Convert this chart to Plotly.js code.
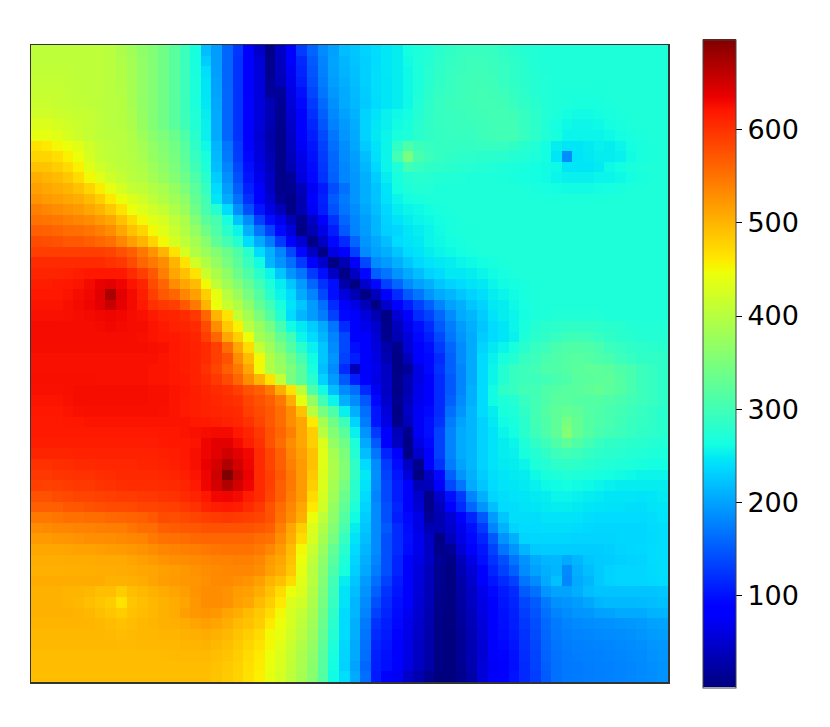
<!DOCTYPE html>
<html><head><meta charset="utf-8">
<script src="https://cdn.plot.ly/plotly-3.0.1.min.js"></script>
<style>html,body{margin:0;padding:0;background:#fff}</style></head>
<body><div id="chart" style="width:830px;height:727px"></div>
<script>
const colorbarTicks=[100,200,300,400,500,600];
const zMin=1, zMax=697;
const gridValues=[
[405,405,405,405,405,405,405,400,390,380,365,355,340,320,295,265,218,195,156,125,88,45,5,42,85,128,156,183,197,218,223,232,240,246,250,262,268,272,280,285,290,292,292,290,285,280,275,272,270,270,270,270,270,270,270,270,270,270,270,270],
[405,405,405,405,405,405,405,400,392,382,368,355,340,320,295,265,228,195,156,122,87,54,8,40,77,115,150,178,200,213,222,230,238,246,250,260,268,275,282,288,292,295,295,292,288,282,278,272,270,270,270,270,270,270,270,270,270,270,270,270],
[408,408,408,406,405,405,405,400,394,384,368,355,340,320,295,266,240,196,156,122,87,56,10,38,70,112,146,176,198,211,220,230,240,246,250,258,268,276,284,290,294,297,297,294,290,284,279,274,271,270,270,270,270,270,270,270,270,270,270,270],
[410,410,410,408,406,405,404,400,395,384,368,355,340,320,295,268,244,198,156,122,87,57,15,37,67,107,143,173,196,208,218,230,240,245,250,258,268,278,285,290,295,298,298,295,290,285,280,275,272,270,270,270,270,270,270,270,270,270,270,270],
[412,412,412,409,407,405,404,400,396,385,368,355,340,320,295,268,245,200,158,122,87,57,18,18,60,99,135,168,192,205,216,228,240,245,250,258,270,280,288,292,295,298,300,298,295,288,282,275,272,270,268,268,268,268,270,270,270,270,270,270],
[415,415,412,410,408,405,403,400,398,385,368,355,340,320,295,268,246,202,158,122,89,57,34,15,54,92,127,160,186,204,214,226,238,245,250,258,272,282,290,294,296,298,300,300,298,292,285,278,272,270,268,265,265,265,268,270,270,270,270,270],
[420,420,418,415,412,410,405,400,398,388,370,355,340,320,296,272,250,204,158,122,89,57,34,12,50,87,121,153,181,198,210,232,243,252,258,262,275,284,290,292,294,296,298,300,300,298,290,282,274,268,262,260,260,262,265,268,270,270,270,270],
[430,430,425,420,415,410,405,400,398,390,372,356,340,320,298,273,252,205,158,122,87,54,32,10,46,82,113,146,176,193,206,232,246,252,260,265,278,285,290,292,293,294,296,300,300,300,290,282,272,264,258,256,256,258,262,266,268,270,270,270],
[440,440,435,425,418,410,405,402,400,392,378,362,350,335,310,280,252,205,158,122,87,52,27,8,42,77,107,138,168,190,205,232,247,255,265,270,280,285,288,290,292,292,295,298,300,300,290,282,272,265,255,255,255,255,258,262,266,268,270,270],
[465,460,450,445,435,420,410,404,400,394,384,368,356,342,318,285,258,212,168,127,89,54,30,8,39,73,102,132,163,185,202,226,243,255,285,310,295,290,288,288,288,288,290,290,290,285,278,272,262,250,245,245,248,252,250,255,262,266,268,270],
[475,475,468,455,445,425,412,405,402,396,386,372,360,346,322,292,265,215,172,129,92,57,34,8,36,64,99,129,158,183,196,218,241,255,300,345,305,295,288,285,282,282,280,280,278,275,272,268,262,245,185,243,247,250,250,252,260,265,268,270],
[490,488,480,470,455,435,420,410,405,398,392,378,365,350,328,298,270,218,178,135,97,62,37,8,32,60,95,125,156,180,194,213,236,255,270,300,290,285,282,280,278,276,274,272,270,268,265,262,260,258,245,245,245,248,258,262,265,268,270,270],
[505,500,495,485,470,450,435,420,410,402,396,384,372,356,338,310,280,228,186,142,102,67,42,8,15,57,92,122,153,180,192,208,228,250,265,275,278,276,274,272,272,270,270,268,268,266,264,262,260,255,252,252,252,255,255,258,262,265,268,270],
[515,510,505,500,490,475,458,440,425,412,406,396,388,372,350,322,290,238,195,152,110,77,42,8,12,35,72,105,140,165,190,207,222,244,262,270,272,272,270,270,270,270,270,270,270,270,268,266,264,262,260,260,260,262,264,266,268,270,270,270],
[525,520,515,510,505,495,480,460,445,430,420,405,395,380,365,330,300,245,205,165,120,85,50,15,5,30,80,110,150,172,190,207,222,242,255,262,265,270,270,270,270,270,270,270,270,270,270,268,268,268,268,268,268,268,270,270,270,270,270,270],
[540,535,530,525,520,510,500,485,465,445,432,420,410,392,375,340,305,275,238,185,142,102,62,37,5,32,72,107,143,168,185,202,218,236,250,255,258,262,266,268,270,270,270,270,270,270,270,270,270,270,270,270,270,270,270,270,270,270,270,270],
[550,548,545,540,535,530,520,510,490,470,450,435,425,405,390,355,320,305,265,222,183,132,97,67,37,8,42,87,122,158,180,196,213,232,243,250,255,258,262,265,268,270,270,270,270,270,270,270,270,270,270,270,270,270,270,270,270,270,270,270],
[565,563,560,555,553,548,540,530,510,490,475,450,435,415,395,370,340,310,280,255,208,168,132,92,57,5,32,62,107,148,178,194,213,230,234,245,250,255,260,265,268,270,270,270,270,270,270,270,270,270,270,270,270,270,270,270,270,270,270,270],
[580,578,575,570,570,565,558,552,535,515,500,475,450,425,405,385,360,325,300,275,238,204,173,127,87,52,5,42,92,117,158,189,203,218,238,243,247,255,258,262,265,268,270,270,270,270,270,270,270,270,270,270,270,270,270,270,270,270,270,270],
[590,590,590,590,590,590,590,585,575,565,545,525,500,465,425,395,375,355,335,310,280,238,209,178,137,92,42,5,62,77,132,183,199,208,223,238,243,250,255,258,262,265,268,270,270,270,270,270,270,270,270,270,270,270,270,270,270,270,270,270],
[605,605,605,605,605,605,605,600,595,580,560,545,530,500,465,420,395,370,345,320,290,260,213,189,163,127,87,47,5,32,75,137,183,194,208,223,236,243,247,250,255,258,262,265,268,270,270,270,270,270,270,270,270,270,270,270,270,270,270,270],
[610,610,610,612,615,620,620,620,618,605,590,570,540,510,490,465,415,390,365,335,310,280,255,223,189,168,127,97,42,5,42,92,153,168,189,204,218,232,238,247,247,250,255,260,264,268,270,270,270,270,270,270,270,270,270,270,270,270,270,270],
[615,615,618,620,622,628,635,640,632,622,610,580,560,530,510,495,450,405,380,355,330,300,270,250,223,194,158,122,97,27,3,47,92,132,158,183,199,208,223,232,238,243,247,255,260,262,266,268,270,270,270,270,270,270,270,270,270,270,270,270],
[620,620,620,622,626,630,640,672,640,628,615,590,570,560,535,515,480,440,400,375,345,315,280,255,238,204,178,137,97,57,32,5,37,82,117,148,168,189,204,213,223,232,240,250,255,260,265,268,270,270,270,270,270,270,270,270,270,270,270,270],
[622,622,622,625,628,632,640,655,638,628,618,600,595,590,570,545,500,445,415,395,365,330,300,265,243,223,194,163,117,87,62,37,5,47,87,107,132,153,178,199,208,223,232,247,250,258,264,268,270,270,270,270,270,270,270,270,270,270,270,270],
[624,624,624,625,627,628,630,632,630,627,624,618,612,610,605,595,560,500,465,410,385,350,315,275,238,213,194,173,132,92,82,57,32,5,52,82,117,132,158,183,204,213,228,243,250,255,262,268,270,272,272,272,272,272,270,270,270,270,270,270],
[627,627,627,627,627,627,628,630,628,627,626,622,618,612,610,605,580,530,485,455,400,375,345,305,260,247,228,204,168,117,87,67,47,8,37,67,97,117,148,173,194,208,223,238,245,255,265,275,280,282,285,285,285,282,280,278,275,272,272,272],
[627,627,627,627,627,627,627,627,627,627,625,622,620,618,614,610,590,560,510,480,445,385,365,330,300,255,238,213,178,137,87,77,52,10,32,57,92,107,137,168,189,204,228,238,245,252,270,280,285,290,295,298,295,290,285,280,278,275,275,275],
[626,626,626,626,626,626,626,626,626,626,626,625,624,620,615,612,605,590,555,510,470,410,380,350,315,280,252,223,184,137,97,82,57,27,8,52,87,97,127,158,184,204,233,247,255,265,280,290,295,305,310,312,310,305,295,290,285,282,280,280],
[624,624,624,624,624,624,624,624,624,624,624,624,622,618,615,612,605,590,575,530,495,450,395,370,340,305,260,223,189,132,107,87,62,32,5,37,82,92,117,153,183,204,238,252,265,275,290,295,305,310,315,318,315,310,305,295,290,285,285,285],
[624,624,624,624,624,624,624,624,624,624,624,622,622,620,615,612,600,585,565,545,510,450,395,375,350,320,265,218,183,117,37,77,67,42,5,15,62,92,122,153,178,204,238,255,275,290,295,300,310,312,315,320,325,322,320,310,305,295,290,285],
[625,625,625,625,625,625,624,624,624,624,624,622,622,620,618,612,605,595,580,560,530,500,465,410,345,320,280,232,194,148,107,82,62,42,8,32,62,87,117,148,178,204,238,255,275,290,295,295,300,305,310,318,320,322,325,315,305,295,290,285],
[624,624,624,625,626,626,626,626,626,626,626,625,625,622,620,615,610,605,600,590,575,565,545,505,465,405,310,260,218,183,163,117,72,42,8,32,67,87,117,148,178,208,238,260,285,290,300,300,310,315,318,320,325,330,322,315,305,295,290,285],
[622,622,622,624,626,626,626,626,626,626,626,625,625,622,618,615,612,608,604,600,585,575,565,545,505,440,370,300,255,208,184,148,92,47,10,37,67,87,117,153,183,208,238,260,270,275,290,300,310,320,320,315,315,315,310,305,300,295,290,285],
[620,620,620,622,624,625,625,625,625,625,625,625,624,622,618,615,612,610,608,605,590,580,570,555,530,490,400,345,310,252,208,163,102,57,5,42,72,92,117,163,189,213,238,250,265,270,285,300,315,325,330,325,315,310,305,300,295,290,285,280],
[618,618,618,620,620,622,622,622,622,622,622,622,622,622,622,620,618,615,612,608,600,585,570,555,530,510,460,385,340,295,232,173,102,62,8,37,72,97,122,173,199,213,232,247,260,265,280,300,310,325,345,330,315,310,305,298,292,288,285,280],
[618,618,618,618,618,618,618,618,618,618,618,618,620,620,622,624,626,628,628,620,610,595,575,560,540,510,480,400,355,320,252,189,127,87,37,10,72,97,132,178,204,213,232,243,255,262,280,295,310,325,355,330,315,305,300,295,290,285,282,278],
[615,615,615,615,615,615,615,615,616,616,616,616,618,620,620,622,632,640,640,628,615,600,575,555,530,510,480,430,370,340,270,204,148,77,42,5,62,92,132,178,204,213,232,243,250,255,270,285,295,310,325,312,300,290,285,282,280,278,275,272],
[610,610,610,610,612,612,612,612,612,612,612,612,614,616,620,625,632,640,650,640,630,605,585,565,535,515,490,435,385,350,275,218,168,112,77,5,47,87,132,178,204,213,232,243,250,252,265,275,285,295,300,295,288,282,280,278,275,272,270,268],
[600,600,602,604,606,606,608,608,608,608,610,610,612,614,618,625,635,648,668,648,632,605,585,565,540,520,490,435,390,355,285,238,183,127,95,42,10,77,122,173,199,213,232,243,248,250,255,268,275,282,285,282,278,275,272,270,268,265,262,262],
[595,595,597,598,600,600,603,604,606,606,606,606,608,610,614,622,632,652,697,658,635,605,590,570,545,520,485,430,390,355,285,247,186,132,102,57,3,42,92,153,189,208,228,240,245,248,250,258,265,270,272,270,268,265,262,260,258,255,255,255],
[590,588,590,592,595,595,598,600,602,604,604,604,605,606,610,618,632,648,668,648,632,605,590,565,545,520,480,430,385,345,280,243,183,137,107,77,32,37,77,137,168,204,223,238,243,245,248,252,258,260,262,260,258,255,252,250,250,250,250,250],
[575,575,580,582,585,585,588,590,592,592,595,595,598,600,605,610,620,630,632,628,615,605,585,565,540,520,470,425,380,335,280,238,178,137,107,87,47,8,47,97,127,178,208,233,240,243,245,248,250,255,255,252,250,248,245,245,245,243,245,248],
[565,565,565,570,572,575,578,580,580,582,585,585,588,590,595,600,610,615,618,615,605,595,575,555,535,510,460,420,370,325,270,233,183,142,112,82,52,8,37,87,117,158,189,218,238,240,243,245,248,250,250,248,245,243,242,242,240,240,243,245],
[545,545,548,552,552,555,555,558,560,562,565,570,580,578,582,585,590,592,595,592,590,585,575,550,530,505,445,405,365,315,260,228,183,142,107,92,62,15,32,52,87,112,148,194,223,240,240,240,243,243,243,243,240,238,238,238,238,238,240,243],
[530,532,534,535,538,538,540,542,542,548,555,555,565,568,570,572,575,575,575,575,575,572,565,540,510,480,430,395,355,305,250,223,183,148,117,95,62,32,32,47,67,97,127,178,209,233,238,238,240,240,240,238,236,235,235,235,235,235,238,240],
[520,520,522,524,526,528,529,530,532,534,536,545,550,552,555,558,560,560,560,560,560,555,550,530,505,470,425,385,345,290,243,218,183,142,117,97,67,42,5,37,62,92,112,148,188,208,233,235,235,235,235,233,233,233,233,235,235,235,237,240],
[510,510,511,512,514,514,516,518,519,522,526,530,535,538,540,542,545,548,550,550,550,545,535,520,495,450,415,375,330,280,238,213,183,142,117,95,67,42,8,15,52,82,102,132,168,189,213,226,228,228,228,228,228,228,230,233,235,236,238,240],
[505,505,505,506,507,507,508,508,508,512,516,520,525,528,530,532,535,538,538,540,540,535,520,510,490,445,405,365,320,270,233,208,178,142,112,87,62,42,15,5,37,62,97,122,142,168,188,204,213,214,204,213,223,226,228,230,232,233,238,240],
[503,503,503,504,504,504,505,505,506,508,510,512,516,518,522,526,530,532,534,535,535,530,515,505,485,440,400,360,310,265,230,203,173,142,112,87,57,37,12,3,32,52,87,112,132,153,183,199,208,213,182,208,218,226,232,234,234,234,237,240],
[507,507,507,506,506,506,507,502,502,504,507,512,517,520,522,524,527,532,532,528,525,515,500,490,470,435,400,355,300,250,223,194,163,132,105,85,57,37,12,3,27,47,82,102,117,132,168,184,204,220,180,204,213,226,232,234,234,234,236,238],
[502,502,502,500,500,497,492,492,482,492,497,502,507,512,517,525,530,530,526,518,515,505,490,470,445,430,395,350,295,243,218,189,153,122,102,82,54,34,10,3,24,42,67,92,105,117,150,165,190,200,200,207,218,222,222,222,222,222,222,224],
[502,502,502,500,497,492,487,482,465,487,492,498,502,507,512,522,530,530,526,515,510,495,480,460,430,420,390,345,290,243,213,183,142,117,97,77,52,34,8,3,22,40,62,87,102,112,135,150,172,187,190,195,202,212,215,215,215,216,218,220],
[502,502,502,502,500,497,492,487,482,490,494,498,502,507,517,522,525,522,512,505,495,485,470,450,425,410,385,340,285,238,213,178,132,112,95,70,50,32,8,2,20,37,60,85,99,109,130,145,165,178,185,190,192,198,200,205,205,205,210,212],
[500,500,500,500,500,499,497,494,490,494,497,500,502,504,507,512,515,512,505,495,490,480,460,445,425,405,380,335,280,238,208,172,122,107,92,67,47,30,6,2,18,34,57,82,97,107,125,140,160,172,178,182,185,187,188,190,192,194,198,200],
[497,497,497,497,497,497,497,496,494,496,498,498,500,500,502,504,506,502,497,488,480,470,450,440,420,400,375,330,275,238,208,168,117,105,89,64,45,27,5,1,15,32,54,79,95,105,122,138,158,170,175,178,180,182,184,185,187,190,194,196],
[497,497,497,497,497,497,497,497,496,496,497,497,498,498,500,500,502,497,492,484,475,465,450,435,415,395,370,325,270,235,204,166,112,102,87,62,42,27,5,1,15,32,52,77,92,102,120,136,156,168,173,175,177,178,180,182,184,186,190,192],
[494,494,494,494,494,494,494,494,494,494,494,494,495,496,496,496,496,492,488,480,470,460,445,430,410,390,365,320,265,233,204,163,109,99,85,62,42,26,4,1,15,32,52,75,89,99,118,134,155,166,172,174,175,176,178,180,182,184,188,190],
[494,494,494,494,494,494,494,494,494,494,494,494,494,494,494,494,494,490,485,478,468,458,442,428,408,388,362,318,262,232,200,158,107,97,82,60,40,26,4,1,12,30,55,72,87,97,116,132,152,165,170,172,174,175,176,178,180,182,186,188],
[492,492,492,492,492,492,492,492,492,492,492,492,492,492,492,492,492,488,483,476,466,456,440,425,405,385,360,315,260,240,205,163,105,85,70,45,30,12,1,1,10,25,55,75,88,100,115,130,150,165,170,172,174,175,176,178,180,182,185,188]
];
const jetStops=[[0,'rgb(0,0,127)'],[0.11,'rgb(0,0,255)'],[0.125,'rgb(0,0,255)'],[0.34,'rgb(0,219,255)'],[0.35,'rgb(0,229,247)'],[0.375,'rgb(20,255,226)'],[0.64,'rgb(238,255,8)'],[0.65,'rgb(247,244,0)'],[0.66,'rgb(255,232,0)'],[0.89,'rgb(255,22,0)'],[0.91,'rgb(236,0,0)'],[1,'rgb(127,0,0)']];
const trace={type:'heatmap',z:gridValues,zmin:zMin,zmax:zMax,zsmooth:false,colorscale:jetStops,
 colorbar:{thickness:33,thicknessmode:'pixels',len:648,lenmode:'pixels',x:1.055,xanchor:'left',xpad:0,y:0.5,yanchor:'middle',ypad:0,
  outlinewidth:1,outlinecolor:'#444',tickmode:'array',tickvals:colorbarTicks,ticktext:colorbarTicks.map(String),ticks:'outside',ticklen:6,tickwidth:1,tickcolor:'#000',
  tickfont:{family:'DejaVu Sans',size:27,color:'#000'}}};
const axis={showticklabels:false,ticks:'',showgrid:false,zeroline:false,showline:true,mirror:true,linecolor:'#333',linewidth:1.5};
Plotly.newPlot('chart',[trace],{width:830,height:727,paper_bgcolor:'#fff',plot_bgcolor:'#fff',
 margin:{l:31,r:162,t:45,b:45,pad:0},
 xaxis:Object.assign({range:[-0.5,59.5]},axis),
 yaxis:Object.assign({range:[59.5,-0.5]},axis)},{displayModeBar:false,staticPlot:true});
</script></body></html>
